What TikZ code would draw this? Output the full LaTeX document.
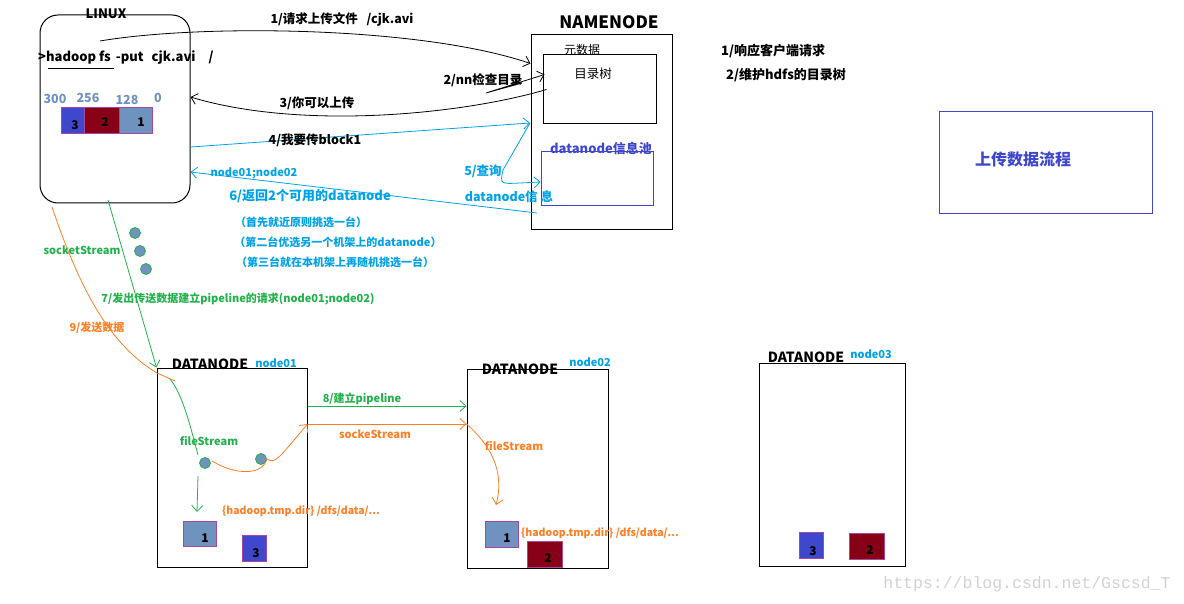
\documentclass[tikz,border=0pt]{standalone}
\usepackage{fontspec}
\setmainfont{Noto Sans CJK SC}
\newfontfamily\wmfont{Liberation Mono}
\usetikzlibrary{calc,arrows.meta}
\newcommand{\fsz}[1]{\fontsize{#1}{#1}\selectfont}
\definecolor{cyanb}{HTML}{00A2E8}
\definecolor{indigo}{HTML}{3F48CC}
\definecolor{blkred}{HTML}{880015}
\definecolor{steel}{HTML}{7092BE}
\definecolor{lilac}{HTML}{A349A4}
\definecolor{grass}{HTML}{22B14C}
\definecolor{tang}{HTML}{FF7F27}
\tikzset{
  box/.style={draw, line width=1pt, inner sep=0pt},
  title/.style={font=\bfseries\fsz{14}, inner sep=0pt},
  lbl/.style={font=\bfseries\fsz{12.5}, inner sep=0pt},
  small/.style={font=\bfseries\fsz{11}, inner sep=0pt},
  blk/.style={draw=lilac, line width=0.8pt},
  num/.style={font=\bfseries\fsz{12}, inner sep=0pt},
  dot/.style={draw=grass, fill=steel, line width=0.8pt},
  wire/.style={line width=0.8pt},
}
\begin{document}
\begin{tikzpicture}[x=1pt, y=-1pt, >={Straight Barb[length=6pt,width=11pt]}]
			%%%%% START %%%%%
			\useasboundingbox (0,0) rectangle (1184,604);
			
			%% client
			\node (linux) [box, rounded corners=18pt, minimum width=150pt, minimum height=188pt] at (115,109) {};
			\node (linuxt) [title, font=\bfseries\fsz{13}] at (106,14) {LINUX};
			\node (cmd) [lbl, anchor=west, font=\bfseries\fsz{13}] at (38,58) {>hadoop fs\hspace{5pt}-put\hspace{8pt}cjk.avi\hspace{13pt}/};
			\draw[wire] (48,68) -- (114,68);
			
			\node (o300) [lbl, steel] at (55,99) {300};
			\node (o256) [lbl, steel] at (88,98) {256};
			\node (o128) [lbl, steel] at (127,100) {128};
			\node (o0) [lbl, steel] at (158,98) {0};
			
			\draw[blk, fill=indigo] (61,107) rectangle (84,133);
			\draw[blk, fill=blkred] (84,107) rectangle (119,133);
			\draw[blk, fill=steel] (119,107) rectangle (152,133);
			\node (c3) [num] at (75,125) {3};
			\node (c2) [num] at (105,122) {2};
			\node (c1) [num] at (141,122) {1};
			
			%% namenode
			\node (nn) [box, minimum width=141pt, minimum height=195pt] at (601.5,132.5) {};
			\node (nnt) [title, font=\bfseries\fsz{17}] at (609,22) {NAMENODE};
			\node (meta) [lbl, font=\fsz{12}] at (582,50) {元数据};
			\node (tree) [box, minimum width=113pt, minimum height=69pt] at (599.5,89.5) {};
			\node (treet) [lbl, font=\fsz{12.5}] at (593,74) {目录树};
			\node (pool) [draw=indigo, line width=0.8pt, minimum width=112pt, minimum height=54pt] at (597,178) {};
			\node (poolt) [lbl, font=\bfseries\fsz{13}, indigo] at (601,149) {datanode信息池};
			
			\node (duty1) [lbl, font=\bfseries\fsz{13}, anchor=west] at (721,51) {1/响应客户端请求};
			\node (duty2) [lbl, font=\bfseries\fsz{13}, anchor=west] at (726,75) {2/维护hdfs的目录树};
			
			\node (flow) [draw=indigo, line width=0.8pt, minimum width=213pt, minimum height=102pt] at (1045.5,162) {};
			\node (flowt) [font=\bfseries\fsz{16}, indigo] at (1023,159) {上传数据流程};
			
			%% client <-> namenode
			\coordinate (s1) at (100,41);
			\coordinate (e1) at ($(nn.north west)+(0,29)$);
			\draw[wire, ->] (s1) .. controls (200,24) and (420,26) .. (e1);
			\node (m1) [lbl] at (342,19) {1/请求上传文件\ \ \ /cjk.avi};
			
			\coordinate (s2) at (486,93);
			\draw[wire, ->] (522,83) -- (s2) -- ($(tree.west)+(2,-15)$);
			\node (m2) [lbl] at (483,80) {2/nn检查目录};
			
			\coordinate (s3) at ($(tree.west)+(4,0)$);
			\draw[wire, ->] (s3) .. controls (460,115) and (300,130) .. (linux.east |- 0,97);
			\node (m3) [lbl] at (317,103) {3/你可以上传};
			
			\coordinate (e4) at (530,123);
			\draw[wire, cyanb, ->] (linux.east |- 0,147) -- (e4);
			\node (m4) [lbl] at (315,140) {4/我要传block1};
			
			\draw[wire, cyanb, ->] (e4) -- (503,170) .. controls (500,184) .. (520,183) -- (pool.west |- 0,182);
			\node (m5) [lbl, cyanb] at (483,171) {5/查询};
			\node (m5b) [lbl, cyanb] at (509,197) {datanode信\ 息};
			
			\coordinate (s6) at (537,213);
			\draw[wire, cyanb, ->] (s6) -- (linux.east |- 0,172);
			\node (m6a) [small, cyanb] at (254,173) {node01;node02};
			\node (m6) [lbl, font=\bfseries\fsz{13}, cyanb] at (310,196) {6/返回2个可用的datanode};
			\node (r1) [small, cyanb] at (301,222) {（首先就近原则挑选一台）};
			\node (r2) [small, cyanb] at (338,242) {（第二台优选另一个机架上的datanode）};
			\node (r3) [small, cyanb] at (335,262) {（第三台就在本机架上再随机挑选一台）};
			
			%% client -> datanode01
			\foreach \px/\py in {135/233, 140/251, 146/269}
				\draw[dot] (\px,\py) circle (5.5);
			\node (sock) [small, grass] at (82,250) {socketStream};
			\node (m7) [small, grass] at (238,299) {7/发出传送数据建立pipeline的请求(node01;node02)};
			\node (m9) [small, tang] at (97,328) {9/发送数据};
			
			%% datanodes
			\node (dn1) [box, minimum width=150pt, minimum height=199pt] at (232,467.5) {};
			\node (dn1t) [title] at (210,364) {DATANODE};
			\node (dn1n) [small, cyanb] at (276,363) {node01};
			
			\node (dn2) [box, minimum width=141pt, minimum height=199pt] at (537.5,468.5) {};
			\node (dn2t) [title] at (520,369) {DATANODE};
			\node (dn2n) [small, cyanb] at (590,362) {node02};
			
			\node (dn3) [box, minimum width=146pt, minimum height=203pt] at (832,464.5) {};
			\node (dn3t) [title] at (806,357) {DATANODE};
			\node (dn3n) [small, cyanb] at (871,354) {node03};
			
			\draw[wire, grass, ->] (108,200) -- (dn1.north west);
			\draw[wire, grass] (169,378) .. controls (182,392) and (190,425) .. (198,455);
			\draw[wire, tang] (52,207) .. controls (80,290) and (110,345) .. (157,373) -- (175,381);
			
			%% datanode01
			\draw[dot] (205,463) circle (5.5);
			\draw[dot] (261,459) circle (5.5);
			\node (fs1) [small, grass] at (209,441) {fileStream};
			\draw[wire, grass, ->] (198,476) -- (197,512);
			\draw[wire, tang, ->] (212,461) .. controls (235,475) and (262,476) .. (267,459) .. controls (275,463) .. (dn1.east |- 0,424);
			\node (path1) [small, font=\bfseries\fsz{10.5}, tang] at (301,511) {\{hadoop.tmp.dir\} /dfs/data/...};
			\draw[blk, fill=steel] (183,521) rectangle (216,546);
			\draw[blk, fill=indigo] (242,535) rectangle (266,561);
			\node (d1b1) [num] at (205,538) {1};
			\node (d1b3) [num] at (256,553) {3};
			
			%% pipeline
			\draw[wire, grass, ->] (dn1.east |- 0,406) -- (dn2.west |- 0,406);
			\node (m8) [small, grass] at (362,399) {8/建立pipeline};
			\draw[wire, tang, ->] (dn1.east |- 0,424) -- (dn2.west |- 0,424);
			\node (m8b) [small, tang] at (375,434) {sockeStream};
			
			%% datanode02
			\draw[wire, tang, ->] (dn2.west |- 0,424) .. controls (490,445) and (505,470) .. (496,505);
			\node (fs2) [small, tang] at (514,446) {fileStream};
			\draw[blk, fill=steel] (485,521) rectangle (518,547);
			\draw[blk, fill=blkred] (527,541) rectangle (562,567);
			\node (d2b1) [num] at (507,538) {1};
			\node (d2b2) [num] at (548,558) {2};
			\node (path2) [small, font=\bfseries\fsz{10.5}, tang, anchor=west] at (521,533) {\{hadoop.tmp.dir\} /dfs/data/...};
			
			%% datanode03
			\draw[blk, fill=indigo] (799,532) rectangle (823,558);
			\draw[blk, fill=blkred] (849,533) rectangle (884,559);
			\node (d3b3) [num] at (813,551) {3};
			\node (d3b2) [num] at (870,550) {2};
			
			\node (wm) [font=\wmfont\fsz{16.5}, gray!35] at (1027,584) {https://blog.csdn.net/Gscsd\_T};
			%%%%% END %%%%%
\end{tikzpicture}
\end{document}
